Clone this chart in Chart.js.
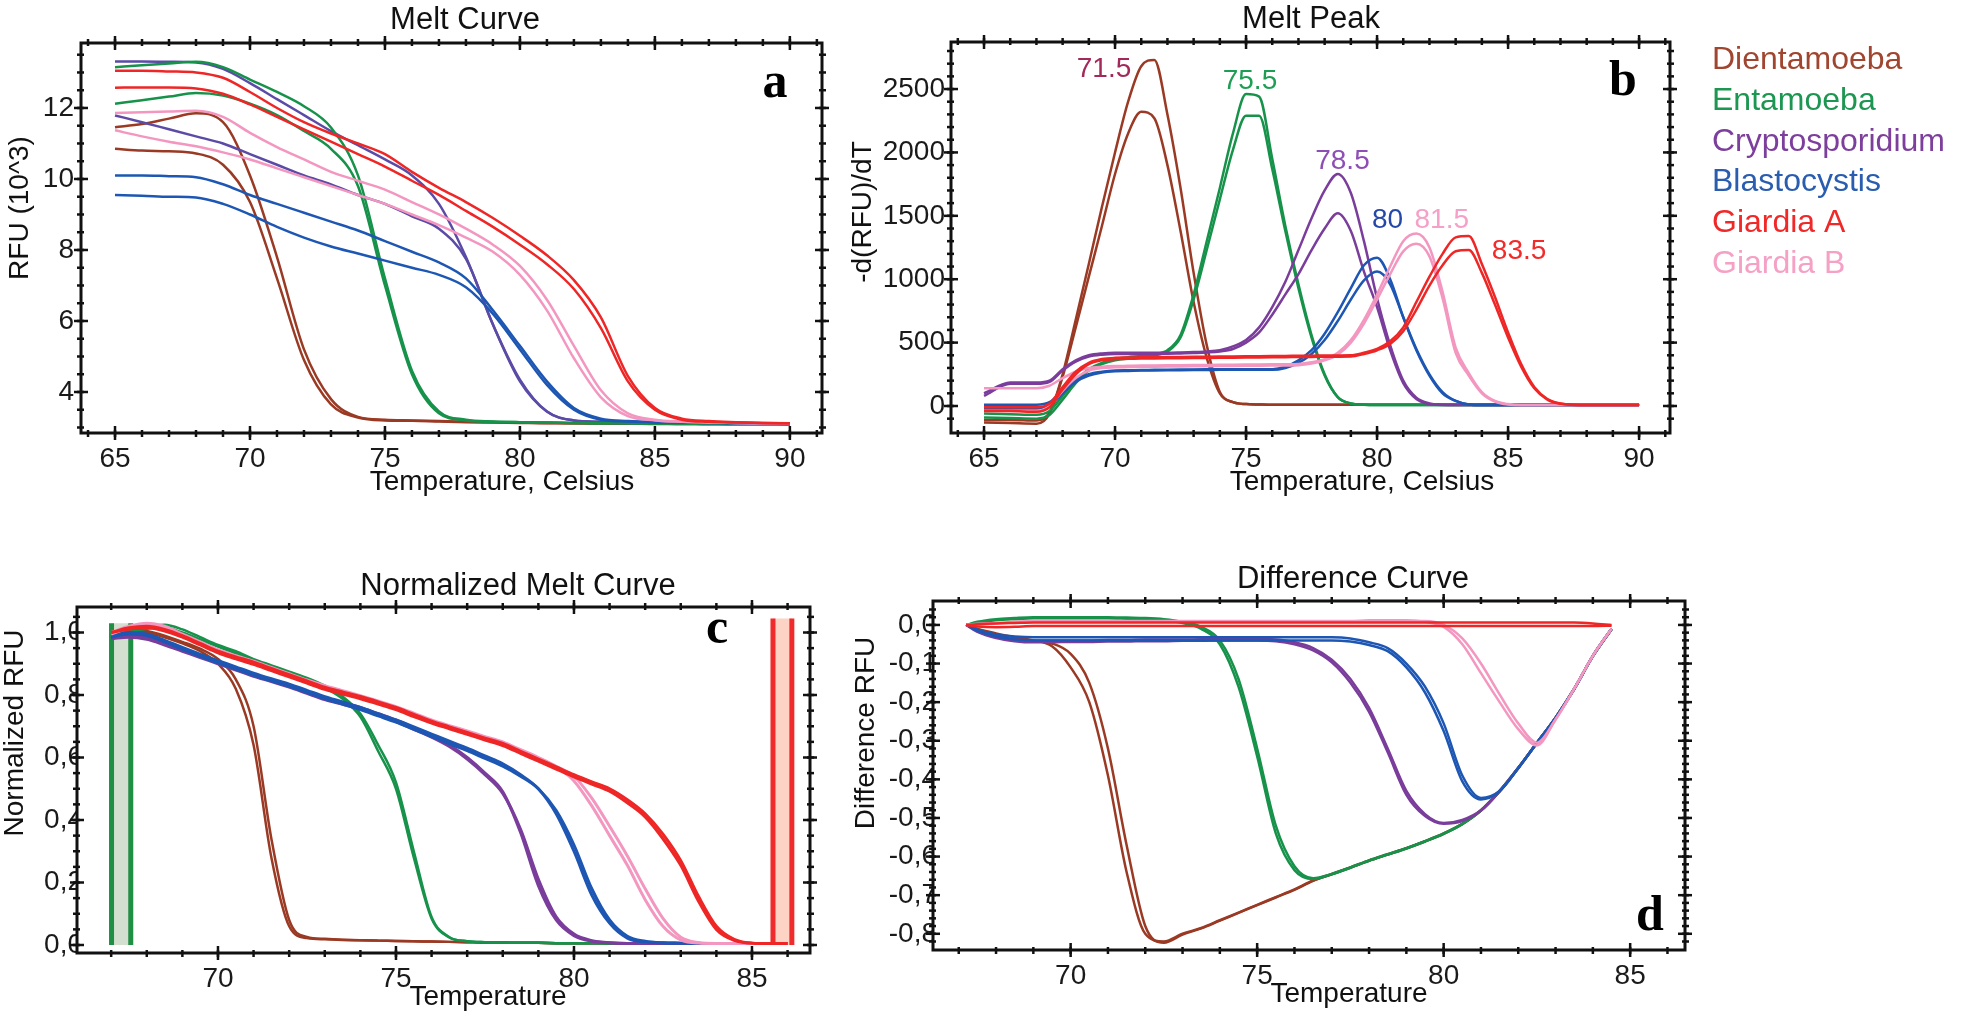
<!DOCTYPE html>
<html>
<head>
<meta charset="utf-8">
<title>Melt curves</title>
<script src="https://cdn.jsdelivr.net/npm/chart.js@4.4.1/dist/chart.umd.min.js"></script>
<style>
  html, body { margin: 0; padding: 0; background: #fff; }
  #wrap { position: relative; width: 1961px; height: 1016px; overflow: hidden; }
  #wrap canvas { position: absolute; left: 0; top: 0; }
</style>
</head>
<body>
<div id="wrap">
  <canvas id="chart-a" width="1961" height="1016"></canvas>
  <canvas id="chart-b" width="1961" height="1016"></canvas>
  <canvas id="chart-c" width="1961" height="1016"></canvas>
  <canvas id="chart-d" width="1961" height="1016"></canvas>
</div>
<script>
// ---- data ----
const SPECIES = ["Dientamoeba", "Entamoeba", "Cryptosporidium", "Blastocystis", "Giardia A", "Giardia B"];

// a: melt curve, RFU x10^3
const TEMP_A = [65, 66, 67, 68, 69, 70, 71, 72, 73, 74, 75, 76, 77, 78, 79, 80, 81, 82, 83, 84, 85, 86, 87, 88, 89, 90];
const dientA1 = [11.46, 11.55, 11.7, 11.85, 11.6, 10.1, 7.8, 5.2, 3.8, 3.3, 3.22, 3.2, 3.18, 3.16, 3.15, 3.14, 3.13, 3.12, 3.12, 3.11, 3.11, 3.1, 3.1, 3.1, 3.1, 3.1];
const dientA2 = [10.85, 10.8, 10.78, 10.72, 10.4, 9.35, 7.2, 4.9, 3.65, 3.28, 3.2, 3.19, 3.17, 3.15, 3.14, 3.13, 3.12, 3.12, 3.11, 3.11, 3.1, 3.1, 3.1, 3.1, 3.1, 3.1];
const entA1 = [13.15, 13.2, 13.25, 13.3, 13.15, 12.8, 12.45, 12.05, 11.45, 10.1, 7.2, 4.6, 3.45, 3.22, 3.17, 3.15, 3.14, 3.13, 3.12, 3.12, 3.11, 3.11, 3.1, 3.1, 3.1, 3.1];
const entA2 = [12.12, 12.22, 12.32, 12.42, 12.35, 12.12, 11.8, 11.35, 10.85, 9.8, 7.0, 4.5, 3.4, 3.2, 3.16, 3.15, 3.14, 3.13, 3.12, 3.12, 3.11, 3.11, 3.1, 3.1, 3.1, 3.1];
const cryA1 = [13.31, 13.31, 13.3, 13.28, 13.1, 12.7, 12.25, 11.8, 11.35, 10.95, 10.55, 10.1, 9.3, 7.8, 5.9, 4.3, 3.45, 3.2, 3.16, 3.14, 3.13, 3.12, 3.11, 3.1, 3.1, 3.1];
const cryA2 = [11.79, 11.6, 11.4, 11.2, 11.0, 10.7, 10.4, 10.1, 9.85, 9.55, 9.3, 8.95, 8.6, 7.75, 5.9, 4.35, 3.45, 3.2, 3.16, 3.14, 3.13, 3.12, 3.11, 3.1, 3.1, 3.1];
const blaA1 = [10.1, 10.1, 10.08, 10.05, 9.85, 9.55, 9.3, 9.05, 8.8, 8.55, 8.25, 7.95, 7.65, 7.2, 6.3, 5.3, 4.3, 3.55, 3.25, 3.18, 3.15, 3.14, 3.13, 3.12, 3.11, 3.1];
const blaA2 = [9.55, 9.53, 9.5, 9.48, 9.3, 9.0, 8.65, 8.35, 8.1, 7.9, 7.7, 7.5, 7.3, 6.95, 6.2, 5.2, 4.2, 3.5, 3.22, 3.17, 3.15, 3.14, 3.13, 3.12, 3.11, 3.1];
const giaA1 = [13.05, 13.05, 13.03, 13.0, 12.85, 12.45, 12.0, 11.6, 11.28, 11.0, 10.7, 10.2, 9.75, 9.35, 8.9, 8.4, 7.85, 7.15, 6.1, 4.45, 3.55, 3.25, 3.18, 3.15, 3.13, 3.12];
const giaA2 = [12.57, 12.58, 12.58, 12.55, 12.4, 12.1, 11.75, 11.4, 11.05, 10.7, 10.35, 9.95, 9.55, 9.1, 8.65, 8.15, 7.6, 6.9, 5.8, 4.3, 3.5, 3.22, 3.16, 3.14, 3.13, 3.12];
const gibA1 = [11.86, 11.88, 11.9, 11.92, 11.75, 11.3, 10.9, 10.55, 10.2, 9.95, 9.7, 9.35, 9.0, 8.6, 8.15, 7.55, 6.6, 5.3, 4.05, 3.4, 3.22, 3.17, 3.15, 3.13, 3.12, 3.12];
const gibA2 = [11.37, 11.2, 11.05, 10.92, 10.75, 10.55, 10.3, 10.05, 9.8, 9.55, 9.3, 9.0, 8.7, 8.35, 7.95, 7.3, 6.3, 4.95, 3.85, 3.32, 3.2, 3.16, 3.14, 3.13, 3.12, 3.12];

// b: melt peak, -d(RFU)/dT
const TEMP_B = [65, 66, 67, 67.5, 68, 68.5, 69, 69.5, 70, 70.5,
  71, 71.5, 72, 72.5, 73, 73.5, 74, 74.5, 75, 75.5,
  76, 76.5, 77, 77.5, 78, 78.5, 79, 79.5, 80, 80.5,
  81, 81.5, 82, 82.5, 83, 83.5, 84, 84.5, 85, 85.5,
  86, 86.5, 87, 88, 89, 90];
const dientB1 = [-130, -135, -140, -60, 250, 680, 1120, 1570, 2000, 2400,
  2680, 2730, 2300, 1720, 1050, 480, 110, 30, 15, 12,
  10, 10, 10, 10, 10, 10, 10, 10, 10, 10,
  10, 10, 10, 10, 10, 10, 10, 10, 10, 10,
  10, 10, 10, 10, 10, 10];
const dientB2 = [-110, -110, -115, -50, 230, 620, 1020, 1420, 1830, 2150,
  2320, 2270, 1900, 1380, 820, 380, 100, 30, 15, 12,
  10, 10, 10, 10, 10, 10, 10, 10, 10, 10,
  10, 10, 10, 10, 10, 10, 10, 10, 10, 10,
  10, 10, 10, 10, 10, 10];
const entB1 = [-60, -65, -70, -40, 80, 200, 290, 340, 370, 385,
  395, 410, 440, 560, 880, 1300, 1720, 2150, 2460, 2440,
  1950, 1420, 960, 560, 250, 70, 20, 10, 8, 8,
  8, 8, 8, 8, 8, 8, 8, 8, 8, 8,
  8, 8, 8, 8, 8, 8];
const entB2 = [-90, -95, -100, -70, 50, 180, 280, 330, 360, 375,
  385, 400, 430, 540, 840, 1230, 1630, 2020, 2290, 2290,
  1870, 1380, 930, 540, 240, 70, 20, 10, 8, 8,
  8, 8, 8, 8, 8, 8, 8, 8, 8, 8,
  8, 8, 8, 8, 8, 8];
const cryB1 = [100, 185, 185, 200, 290, 360, 400, 415, 420, 420,
  420, 420, 420, 422, 425, 430, 440, 470, 520, 620,
  780, 980, 1230, 1480, 1700, 1830, 1680, 1300, 850, 480,
  200, 65, 20, 10, 8, 8, 8, 8, 8, 8,
  8, 8, 8, 8, 8, 8];
const cryB2 = [80, 175, 175, 190, 280, 350, 390, 405, 410, 410,
  410, 410, 412, 415, 418, 422, 430, 450, 500, 580,
  720, 880, 1040, 1230, 1400, 1520, 1380, 1060, 780, 440,
  180, 55, 15, 8, 8, 8, 8, 8, 8, 8,
  8, 8, 8, 8, 8, 8];
const blaB1 = [10, 10, 10, 30, 120, 200, 250, 270, 280, 282,
  284, 285, 286, 287, 288, 289, 290, 290, 290, 290,
  290, 310, 360, 440, 570, 740, 930, 1110, 1170, 1000,
  700, 440, 240, 100, 40, 12, 8, 8, 8, 8,
  8, 8, 8, 8, 8, 8];
const blaB2 = [-20, -20, -20, 0, 100, 190, 240, 265, 275, 277,
  279, 280, 281, 282, 283, 284, 285, 285, 285, 285,
  285, 300, 340, 410, 520, 670, 840, 990, 1060, 960,
  700, 450, 250, 110, 40, 12, 8, 8, 8, 8,
  8, 8, 8, 8, 8, 8];
const giaB1 = [-10, -10, -10, 20, 150, 270, 340, 370, 380, 382,
  384, 385, 386, 387, 388, 389, 390, 391, 392, 393,
  394, 395, 396, 397, 398, 399, 400, 420, 450, 510,
  620, 820, 1020, 1200, 1330, 1340, 1120, 860, 580, 330,
  150, 55, 20, 8, 8, 8];
const giaB2 = [-40, -40, -45, -10, 130, 250, 330, 360, 370, 372,
  374, 375, 376, 377, 378, 379, 380, 381, 382, 383,
  384, 385, 386, 387, 388, 389, 390, 410, 440, 490,
  590, 760, 950, 1110, 1220, 1230, 1050, 800, 540, 310,
  140, 50, 18, 8, 8, 8];
const gibB1 = [140, 140, 140, 160, 220, 270, 300, 310, 315, 317,
  319, 320, 321, 322, 323, 324, 325, 326, 327, 328,
  329, 330, 332, 345, 370, 420, 520, 680, 880, 1100,
  1300, 1360, 1250, 900, 460, 260, 110, 40, 15, 8,
  8, 8, 8, 8, 8, 8];
const gibB2 = [-40, -40, -40, 0, 120, 220, 280, 300, 305, 307,
  309, 310, 311, 312, 313, 314, 315, 316, 317, 318,
  319, 320, 322, 335, 360, 405, 500, 650, 840, 1040,
  1220, 1280, 1180, 850, 420, 240, 100, 35, 12, 8,
  8, 8, 8, 8, 8, 8];
const PEAK_LABELS = ["71.5", "75.5", "78.5", "80", "81.5", "83.5"];
const PEAK_T = [69.58, 75.15, 78.68, 80.4, 82.47, 85.42];
const PEAK_V = [2594, 2500, 1869, 1404, 1404, 1159];

// c: normalized melt curve
const TEMP_C = [67, 67.5, 68, 68.5, 69, 69.5, 70, 70.5, 71, 71.5,
  72, 72.5, 73, 73.5, 74, 74.5, 75, 75.5, 76, 76.5,
  77, 77.5, 78, 78.5, 79, 79.5, 80, 80.5, 81, 81.5,
  82, 82.5, 83, 83.5, 84, 84.5, 85, 85.5, 86];
const dientC1 = [1.0, 1.005, 1.0, 0.985, 0.965, 0.94, 0.9, 0.82, 0.64, 0.28,
  0.06, 0.022, 0.018, 0.016, 0.015, 0.014, 0.013, 0.012, 0.011, 0.01,
  0.009, 0.008, 0.008, 0.007, 0.007, 0.006, 0.006, 0.006, 0.005, 0.005,
  0.005, 0.005, 0.005, 0.005, 0.005, 0.005, 0.005, 0.005, 0.005];
const dientC2 = [1.0, 1.01, 1.005, 0.99, 0.97, 0.948, 0.915, 0.85, 0.7, 0.34,
  0.08, 0.026, 0.02, 0.017, 0.015, 0.014, 0.013, 0.012, 0.011, 0.01,
  0.009, 0.008, 0.008, 0.007, 0.007, 0.006, 0.006, 0.006, 0.005, 0.005,
  0.005, 0.005, 0.005, 0.005, 0.005, 0.005, 0.005, 0.005, 0.005];
const entC1 = [0.99, 1.005, 1.02, 1.025, 1.01, 0.985, 0.96, 0.94, 0.915, 0.895,
  0.875, 0.855, 0.83, 0.795, 0.74, 0.64, 0.52, 0.3, 0.09, 0.025,
  0.012, 0.009, 0.008, 0.007, 0.007, 0.006, 0.006, 0.006, 0.005, 0.005,
  0.005, 0.005, 0.005, 0.005, 0.005, 0.005, 0.005, 0.005, 0.005];
const entC2 = [0.985, 1.0, 1.012, 1.015, 1.0, 0.978, 0.955, 0.933, 0.91, 0.888,
  0.868, 0.848, 0.823, 0.788, 0.73, 0.62, 0.5, 0.28, 0.085, 0.024,
  0.012, 0.009, 0.008, 0.007, 0.007, 0.006, 0.006, 0.006, 0.005, 0.005,
  0.005, 0.005, 0.005, 0.005, 0.005, 0.005, 0.005, 0.005, 0.005];
const cryC1 = [0.985, 0.99, 0.985, 0.965, 0.945, 0.925, 0.905, 0.885, 0.865, 0.848,
  0.83, 0.81, 0.79, 0.775, 0.76, 0.74, 0.72, 0.695, 0.67, 0.64,
  0.6, 0.55, 0.49, 0.36, 0.19, 0.08, 0.03, 0.012, 0.007, 0.005,
  0.005, 0.005, 0.005, 0.005, 0.005, 0.005, 0.005, 0.005, 0.005];
const cryC2 = [0.98, 0.985, 0.978, 0.96, 0.94, 0.92, 0.9, 0.88, 0.86, 0.843,
  0.825, 0.805, 0.785, 0.77, 0.755, 0.735, 0.715, 0.69, 0.665, 0.635,
  0.595, 0.545, 0.485, 0.37, 0.21, 0.09, 0.035, 0.014, 0.007, 0.005,
  0.005, 0.005, 0.005, 0.005, 0.005, 0.005, 0.005, 0.005, 0.005];
const blaC1 = [0.99, 1.0, 0.995, 0.975, 0.952, 0.93, 0.91, 0.89, 0.87, 0.852,
  0.835, 0.815, 0.795, 0.778, 0.76, 0.74, 0.72, 0.698, 0.675, 0.652,
  0.63, 0.605, 0.58, 0.545, 0.5, 0.42, 0.3, 0.16, 0.07, 0.022,
  0.01, 0.007, 0.006, 0.005, 0.005, 0.005, 0.005, 0.005, 0.005];
const blaC2 = [0.985, 0.995, 0.99, 0.97, 0.946, 0.924, 0.903, 0.883, 0.863, 0.845,
  0.828, 0.808, 0.788, 0.771, 0.753, 0.733, 0.713, 0.69, 0.667, 0.644,
  0.622, 0.597, 0.572, 0.54, 0.5, 0.43, 0.32, 0.18, 0.08, 0.028,
  0.012, 0.007, 0.006, 0.005, 0.005, 0.005, 0.005, 0.005, 0.005];
const giaC1 = [1.0, 1.015, 1.02, 1.01, 0.99, 0.965, 0.94, 0.922, 0.905, 0.885,
  0.865, 0.845, 0.825, 0.81, 0.795, 0.778, 0.76, 0.738, 0.716, 0.698,
  0.68, 0.662, 0.645, 0.62, 0.595, 0.57, 0.545, 0.522, 0.5, 0.465,
  0.42, 0.355, 0.27, 0.155, 0.06, 0.018, 0.006, 0.005, 0.005];
const giaC2 = [1.0, 1.01, 1.015, 1.005, 0.985, 0.96, 0.935, 0.916, 0.898, 0.878,
  0.858, 0.838, 0.818, 0.803, 0.788, 0.771, 0.753, 0.731, 0.71, 0.692,
  0.674, 0.656, 0.638, 0.613, 0.588, 0.563, 0.538, 0.515, 0.492, 0.455,
  0.41, 0.34, 0.255, 0.14, 0.05, 0.015, 0.006, 0.005, 0.005];
const gibC1 = [1.0, 1.02, 1.03, 1.02, 0.995, 0.97, 0.945, 0.926, 0.908, 0.888,
  0.868, 0.848, 0.83, 0.814, 0.798, 0.781, 0.763, 0.742, 0.72, 0.702,
  0.685, 0.667, 0.65, 0.625, 0.6, 0.57, 0.525, 0.445, 0.35, 0.255,
  0.145, 0.06, 0.016, 0.006, 0.005, 0.005, 0.005, 0.005, 0.005];
const gibC2 = [0.995, 1.015, 1.025, 1.015, 0.99, 0.966, 0.942, 0.923, 0.905, 0.885,
  0.865, 0.845, 0.827, 0.811, 0.795, 0.778, 0.76, 0.739, 0.717, 0.699,
  0.682, 0.664, 0.647, 0.622, 0.598, 0.572, 0.54, 0.47, 0.38, 0.285,
  0.18, 0.085, 0.025, 0.008, 0.005, 0.005, 0.005, 0.005, 0.005];
// normalisation regions (temperature limits of the two bars)
const PRE_MELT = [67.01, 67.55];
const POST_MELT = [85.59, 86.12];
const REGION_TOP = [1.03, 1.045];

// d: difference curve
const TEMP_D = [67.2, 67.5, 68, 68.5, 69, 69.5, 70, 70.5, 71, 71.5,
  72, 72.5, 73, 73.5, 74, 74.5, 75, 75.5, 76, 76.5,
  77, 77.5, 78, 78.5, 79, 79.5, 80, 80.5, 81, 81.5,
  82, 82.5, 83, 83.5, 84, 84.5];
const dientD1 = [0, -0.01, -0.022, -0.032, -0.04, -0.055, -0.11, -0.2, -0.39, -0.64,
  -0.8, -0.82, -0.8, -0.785, -0.765, -0.745, -0.725, -0.705, -0.685, -0.662,
  -0.645, -0.628, -0.61, -0.594, -0.578, -0.56, -0.54, -0.515, -0.48, -0.43,
  -0.37, -0.305, -0.24, -0.165, -0.08, -0.01];
const dientD2 = [0, -0.012, -0.028, -0.038, -0.042, -0.048, -0.075, -0.15, -0.32, -0.57,
  -0.78, -0.823, -0.802, -0.786, -0.766, -0.746, -0.726, -0.706, -0.686, -0.663,
  -0.646, -0.629, -0.611, -0.595, -0.579, -0.561, -0.541, -0.516, -0.481, -0.431,
  -0.371, -0.306, -0.241, -0.166, -0.081, -0.011];
const entD1 = [0, 0.008, 0.015, 0.018, 0.02, 0.02, 0.02, 0.02, 0.02, 0.019,
  0.018, 0.015, 0.008, -0.005, -0.04, -0.14, -0.32, -0.52, -0.625, -0.656,
  -0.645, -0.628, -0.61, -0.594, -0.578, -0.56, -0.54, -0.515, -0.48, -0.43,
  -0.37, -0.305, -0.24, -0.165, -0.08, -0.01];
const entD2 = [0, 0.006, 0.012, 0.015, 0.017, 0.017, 0.017, 0.017, 0.017, 0.016,
  0.015, 0.012, 0.005, -0.01, -0.05, -0.16, -0.34, -0.54, -0.635, -0.658,
  -0.646, -0.629, -0.611, -0.595, -0.579, -0.561, -0.541, -0.516, -0.481, -0.431,
  -0.371, -0.306, -0.241, -0.166, -0.081, -0.011];
const cryD1 = [0, -0.015, -0.03, -0.038, -0.04, -0.04, -0.04, -0.04, -0.039, -0.039,
  -0.038, -0.038, -0.038, -0.037, -0.037, -0.036, -0.036, -0.038, -0.045, -0.06,
  -0.09, -0.14, -0.215, -0.32, -0.43, -0.49, -0.513, -0.505, -0.48, -0.43,
  -0.37, -0.305, -0.24, -0.165, -0.08, -0.01];
const cryD2 = [0, -0.018, -0.034, -0.042, -0.045, -0.045, -0.044, -0.044, -0.043, -0.043,
  -0.042, -0.042, -0.041, -0.041, -0.04, -0.04, -0.04, -0.042, -0.05, -0.066,
  -0.097, -0.15, -0.225, -0.33, -0.44, -0.495, -0.515, -0.508, -0.481, -0.431,
  -0.371, -0.306, -0.241, -0.166, -0.081, -0.011];
const blaD1 = [0, -0.012, -0.025, -0.03, -0.032, -0.032, -0.032, -0.032, -0.032, -0.032,
  -0.032, -0.032, -0.032, -0.032, -0.032, -0.032, -0.032, -0.032, -0.032, -0.032,
  -0.032, -0.035, -0.045, -0.06, -0.1, -0.16, -0.255, -0.39, -0.448, -0.43,
  -0.37, -0.305, -0.24, -0.165, -0.08, -0.01];
const blaD2 = [0, -0.015, -0.03, -0.038, -0.04, -0.04, -0.04, -0.04, -0.04, -0.04,
  -0.04, -0.04, -0.04, -0.04, -0.04, -0.04, -0.04, -0.04, -0.04, -0.04,
  -0.04, -0.043, -0.052, -0.068, -0.11, -0.175, -0.275, -0.405, -0.452, -0.431,
  -0.371, -0.306, -0.241, -0.166, -0.081, -0.011];
const giaD1 = [0, 0.002, 0.004, 0.005, 0.006, 0.006, 0.006, 0.006, 0.006, 0.006,
  0.006, 0.006, 0.006, 0.006, 0.006, 0.006, 0.006, 0.006, 0.006, 0.006,
  0.006, 0.006, 0.006, 0.006, 0.006, 0.006, 0.006, 0.006, 0.006, 0.006,
  0.006, 0.006, 0.006, 0.006, 0.004, 0.0];
const giaD2 = [0, -0.004, -0.006, -0.005, -0.003, -0.003, -0.003, -0.003, -0.003, -0.003,
  -0.003, -0.003, -0.003, -0.003, -0.003, -0.003, -0.003, -0.003, -0.003, -0.003,
  -0.003, -0.003, -0.003, -0.003, -0.003, -0.003, -0.003, -0.003, -0.003, -0.003,
  -0.003, -0.003, -0.003, -0.003, -0.003, -0.002];
const gibD1 = [0, 0.003, 0.005, 0.008, 0.01, 0.01, 0.01, 0.01, 0.01, 0.01,
  0.01, 0.01, 0.01, 0.01, 0.01, 0.01, 0.01, 0.01, 0.01, 0.01,
  0.01, 0.01, 0.012, 0.012, 0.012, 0.008, -0.005, -0.05, -0.125, -0.2,
  -0.27, -0.312, -0.245, -0.165, -0.08, -0.01];
const gibD2 = [0, 0.002, 0.004, 0.006, 0.008, 0.008, 0.008, 0.008, 0.008, 0.008,
  0.008, 0.008, 0.008, 0.008, 0.008, 0.008, 0.008, 0.008, 0.008, 0.008,
  0.008, 0.008, 0.01, 0.01, 0.01, 0.01, 0.0, -0.035, -0.1, -0.18,
  -0.255, -0.305, -0.245, -0.165, -0.08, -0.01];

// ---- styling / layout ----
const FONT = '"Liberation Sans", Arial, Helvetica, sans-serif';
const W = 1961, H = 1016;
const AXIS_W = 70, AXIS_H = 50;
const COL = { dient: "#9a3a24", ent: "#17924a", cry: "#7a3d9c", bla: "#1d57b3", gia: "#ee2626", gib: "#f397c0" };
const CRY_A = "#5b4ba6";
const LEGEND_COLORS = ["#a0452f", "#1c9650", "#7d3f9c", "#2a5db0", "#f02828", "#f5a0c5"];
const PEAK_COLORS = ["#a3295a", "#1e9e55", "#8e4fb5", "#2548a8", "#f5a0c8", "#f22a2a"];

// frame = [left, top, right, bottom] in page pixels
const PANELS = {
  a: { frame: [81, 43, 822, 433], title: [465, 29], xTitle: [502, 490], yTitle: [20, 208], letter: [775, 97] },
  b: { frame: [951, 42, 1670, 433], title: [1311, 28], xTitle: [1362, 490], yTitle: [863, 212], letter: [1623, 95] },
  c: { frame: [77, 607, 810, 953], title: [518, 595], xTitle: [488, 1005], yTitle: [15, 733], letter: [717, 643] },
  d: { frame: [933, 601, 1685, 950], title: [1353, 588], xTitle: [1349, 1002], yTitle: [866, 733], letter: [1650, 930] },
};

Chart.defaults.font.family = FONT;

function curve(temps, values, color, width) {
  return {
    data: temps.map((t, i) => ({ x: t, y: values[i] })),
    borderColor: color,
    borderWidth: width || 2.5,
    pointRadius: 0,
    fill: false,
    cubicInterpolationMode: "monotone",
  };
}

function regionFill(edges, top, color) {
  return {
    data: [{ x: edges[0], y: 0 }, { x: edges[0], y: top }, { x: edges[1], y: top }, { x: edges[1], y: 0 }],
    borderWidth: 0, backgroundColor: color, fill: "shape", pointRadius: 0, tension: 0,
  };
}

function regionEdge(x, top, color) {
  return {
    data: [{ x: x, y: 0 }, { x: x, y: top }],
    borderColor: color, borderWidth: 5, pointRadius: 0, tension: 0, fill: false,
  };
}

function frameTicks(t) {
  return {
    id: "frameTicks",
    afterDatasetsDraw(chart) {
      const { ctx, chartArea: a } = chart;
      const sx = chart.scales.x, sy = chart.scales.y;
      const line = (x1, y1, x2, y2) => { ctx.beginPath(); ctx.moveTo(x1, y1); ctx.lineTo(x2, y2); ctx.stroke(); };
      const steps = (r) => { const out = []; for (let k = 0; r[0] + k * r[2] <= r[1] + 1e-9; k++) out.push(r[0] + k * r[2]); return out; };
      ctx.save();
      ctx.strokeStyle = "#111";
      ctx.lineWidth = 2.5;
      steps(t.xMinor).forEach((v) => {
        const px = sx.getPixelForValue(v);
        if (px < a.left + 3 || px > a.right - 3) return;
        line(px, a.bottom - 3, px, a.bottom + 4);
        line(px, a.top - 4, px, a.top + 3);
      });
      steps(t.yMinor).forEach((v) => {
        const py = sy.getPixelForValue(v);
        if (py < a.top + 3 || py > a.bottom - 3) return;
        line(a.left - 4, py, a.left + 3, py);
        line(a.right - 3, py, a.right + 4, py);
      });
      t.xMajor.forEach((v) => {
        const px = sx.getPixelForValue(v);
        line(px, a.bottom - 7, px, a.bottom + 7);
        line(px, a.top - 7, px, a.top + 7);
      });
      t.yMajor.forEach((v) => {
        const py = sy.getPixelForValue(v);
        line(a.left - 7, py, a.left + 7, py);
        line(a.right - 7, py, a.right + 7, py);
      });
      ctx.lineWidth = 3;
      ctx.strokeRect(a.left, a.top, a.right - a.left, a.bottom - a.top);
      ctx.restore();
    },
  };
}

function panelText(p, text, extra) {
  return {
    id: "panelText",
    afterDraw(chart) {
      const ctx = chart.ctx;
      ctx.save();
      ctx.fillStyle = "#111";
      ctx.textAlign = "center";
      ctx.textBaseline = "alphabetic";
      ctx.font = "31px " + FONT;
      ctx.fillText(text.title, p.title[0], p.title[1]);
      ctx.font = "28px " + FONT;
      ctx.fillText(text.x, p.xTitle[0], p.xTitle[1]);
      ctx.save();
      ctx.translate(p.yTitle[0], p.yTitle[1]);
      ctx.rotate(-Math.PI / 2);
      ctx.textBaseline = "middle";
      ctx.fillText(text.y, 0, 0);
      ctx.restore();
      ctx.fillStyle = "#000";
      ctx.font = 'bold 50px "Liberation Serif", "Times New Roman", serif';
      ctx.fillText(text.letter, p.letter[0], p.letter[1]);
      if (extra) extra(chart, ctx);
      ctx.restore();
    },
  };
}

function makeChart(id, key, datasets, xs, ys, text, ticks, extra) {
  const p = PANELS[key];
  const f = p.frame;
  const tickFont = { family: FONT, size: 28 };
  return new Chart(document.getElementById(id), {
    type: "line",
    data: { datasets: datasets },
    options: {
      responsive: false,
      animation: false,
      events: [],
      layout: { padding: { left: f[0] - AXIS_W, top: f[1], right: W - f[2], bottom: H - f[3] - AXIS_H } },
      plugins: { legend: { display: false }, tooltip: { enabled: false }, title: { display: false } },
      scales: {
        x: {
          type: "linear", min: xs.min, max: xs.max,
          afterFit: (s) => { s.height = AXIS_H; },
          afterBuildTicks: (s) => { s.ticks = xs.ticks.map((v) => ({ value: v })); },
          grid: { display: false, drawTicks: false },
          border: { display: false },
          ticks: { font: tickFont, color: "#1a1a1a", padding: 9, maxRotation: 0, autoSkip: false, callback: (v, i) => xs.labels[i] },
        },
        y: {
          type: "linear", min: ys.min, max: ys.max,
          afterFit: (s) => { s.width = AXIS_W; },
          afterBuildTicks: (s) => { s.ticks = ys.ticks.map((v) => ({ value: v })); },
          grid: { display: false, drawTicks: false },
          border: { display: false },
          ticks: { font: tickFont, color: "#1a1a1a", padding: ys.pad, autoSkip: false, callback: (v, i) => ys.labels[i] },
        },
      },
    },
    plugins: [frameTicks(ticks), panelText(p, text, extra)],
  });
}

// ---- panel a ----
makeChart("chart-a", "a", [
  curve(TEMP_A, giaA1, COL.gia), curve(TEMP_A, giaA2, COL.gia),
  curve(TEMP_A, gibA1, COL.gib), curve(TEMP_A, gibA2, COL.gib),
  curve(TEMP_A, blaA1, COL.bla), curve(TEMP_A, blaA2, COL.bla),
  curve(TEMP_A, entA1, COL.ent), curve(TEMP_A, entA2, COL.ent),
  curve(TEMP_A, cryA1, CRY_A), curve(TEMP_A, cryA2, CRY_A),
  curve(TEMP_A, dientA1, COL.dient), curve(TEMP_A, dientA2, COL.dient),
],
  { min: 63.74, max: 91.19, ticks: [65, 70, 75, 80, 85, 90], labels: ["65", "70", "75", "80", "85", "90"] },
  { min: 2.845, max: 13.83, ticks: [4, 6, 8, 10, 12], labels: ["4", "6", "8", "10", "12"], pad: 7 },
  { title: "Melt Curve", x: "Temperature, Celsius", y: "RFU (10^3)", letter: "a" },
  { xMajor: [65, 70, 75, 80, 85, 90], xMinor: [64, 91, 1], yMajor: [4, 6, 8, 10, 12], yMinor: [3, 13.5, 0.5] }
);

// ---- panel b ----
makeChart("chart-b", "b", [
  curve(TEMP_B, giaB1, COL.gia), curve(TEMP_B, giaB2, COL.gia),
  curve(TEMP_B, gibB1, COL.gib), curve(TEMP_B, gibB2, COL.gib),
  curve(TEMP_B, blaB1, COL.bla), curve(TEMP_B, blaB2, COL.bla),
  curve(TEMP_B, cryB1, COL.cry), curve(TEMP_B, cryB2, COL.cry),
  curve(TEMP_B, entB1, COL.ent), curve(TEMP_B, entB2, COL.ent),
  curve(TEMP_B, dientB1, COL.dient), curve(TEMP_B, dientB2, COL.dient),
],
  { min: 63.74, max: 91.18, ticks: [65, 70, 75, 80, 85, 90], labels: ["65", "70", "75", "80", "85", "90"] },
  { min: -213, max: 2871, ticks: [0, 500, 1000, 1500, 2000, 2500], labels: ["0", "500", "1000", "1500", "2000", "2500"], pad: 6 },
  { title: "Melt Peak", x: "Temperature, Celsius", y: "-d(RFU)/dT", letter: "b" },
  { xMajor: [65, 70, 75, 80, 85, 90], xMinor: [64, 91, 1], yMajor: [0, 500, 1000, 1500, 2000, 2500], yMinor: [-200, 2800, 100] },
  (chart, ctx) => {
    const sx = chart.scales.x, sy = chart.scales.y;
    ctx.font = "28px " + FONT;
    ctx.textAlign = "center";
    ctx.textBaseline = "alphabetic";
    PEAK_LABELS.forEach((txt, i) => {
      ctx.fillStyle = PEAK_COLORS[i];
      ctx.fillText(txt, sx.getPixelForValue(PEAK_T[i]), sy.getPixelForValue(PEAK_V[i]));
    });
    ctx.font = "32px " + FONT;
    ctx.textAlign = "left";
    SPECIES.forEach((name, i) => {
      ctx.fillStyle = LEGEND_COLORS[i];
      ctx.fillText(name, 1712, 69 + i * 40.8);
    });
  }
);

// ---- panel c ----
makeChart("chart-c", "c", [
  curve(TEMP_C, giaC1, COL.gia, 3), curve(TEMP_C, giaC2, COL.gia, 3),
  curve(TEMP_C, gibC1, COL.gib, 3), curve(TEMP_C, gibC2, COL.gib, 3),
  curve(TEMP_C, blaC1, COL.bla, 3), curve(TEMP_C, blaC2, COL.bla, 3),
  curve(TEMP_C, cryC1, COL.cry, 3), curve(TEMP_C, cryC2, COL.cry, 3),
  curve(TEMP_C, entC1, COL.ent, 2.5), curve(TEMP_C, entC2, COL.ent, 2.5),
  curve(TEMP_C, dientC1, COL.dient, 2.5), curve(TEMP_C, dientC2, COL.dient, 2.5),
  regionEdge(PRE_MELT[0], REGION_TOP[0], "#1f8f44"), regionEdge(PRE_MELT[1], REGION_TOP[0], "#1f8f44"),
  regionEdge(POST_MELT[0], REGION_TOP[1], "#ef2b2b"), regionEdge(POST_MELT[1], REGION_TOP[1], "#ef2b2b"),
  regionFill(PRE_MELT, REGION_TOP[0], "#d3dfcf"), regionFill(POST_MELT, REGION_TOP[1], "#fcd3c4"),
],
  { min: 66.04, max: 86.63, ticks: [70, 75, 80, 85], labels: ["70", "75", "80", "85"] },
  { min: -0.0256, max: 1.0816, ticks: [0, 0.2, 0.4, 0.6, 0.8, 1.0], labels: ["0,0", "0,2", "0,4", "0,6", "0,8", "1,0"], pad: -6 },
  { title: "Normalized Melt Curve", x: "Temperature", y: "Normalized RFU", letter: "c" },
  { xMajor: [70, 75, 80, 85], xMinor: [67, 86, 1], yMajor: [0, 0.2, 0.4, 0.6, 0.8, 1.0], yMinor: [0, 1.05, 0.05] }
);

// ---- panel d ----
makeChart("chart-d", "d", [
  curve(TEMP_D, giaD1, COL.gia), curve(TEMP_D, giaD2, COL.gia),
  curve(TEMP_D, gibD1, COL.gib), curve(TEMP_D, gibD2, COL.gib),
  curve(TEMP_D, blaD1, COL.bla), curve(TEMP_D, blaD2, COL.bla),
  curve(TEMP_D, cryD1, COL.cry), curve(TEMP_D, cryD2, COL.cry),
  curve(TEMP_D, entD1, COL.ent), curve(TEMP_D, entD2, COL.ent),
  curve(TEMP_D, dientD1, COL.dient), curve(TEMP_D, dientD2, COL.dient),
],
  { min: 66.31, max: 86.47, ticks: [70, 75, 80, 85], labels: ["70", "75", "80", "85"] },
  { min: -0.842, max: 0.062, ticks: [0, -0.1, -0.2, -0.3, -0.4, -0.5, -0.6, -0.7, -0.8],
    labels: ["0,0", "-0,1", "-0,2", "-0,3", "-0,4", "-0,5", "-0,6", "-0,7", "-0,8"], pad: -4 },
  { title: "Difference Curve", x: "Temperature", y: "Difference RFU", letter: "d" },
  { xMajor: [70, 75, 80, 85], xMinor: [67, 86, 1], yMajor: [0, -0.1, -0.2, -0.3, -0.4, -0.5, -0.6, -0.7, -0.8], yMinor: [-0.84, 0.06, 0.02] }
);
</script>
</body>
</html>
